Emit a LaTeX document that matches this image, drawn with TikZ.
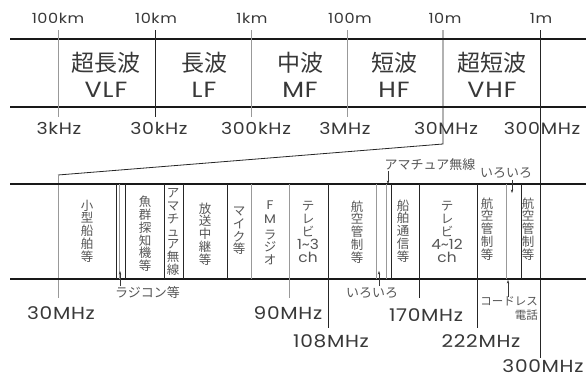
\documentclass[tikz,border=0pt]{standalone}
\usepackage{fontspec}
\setmainfont{Poppins}
\newfontfamily\jp{Noto Sans CJK JP}
\newfontfamily\wide{Poppins}[LetterSpace=4,FakeStretch=1.15]
\newfontfamily\lat{Poppins}[FakeStretch=1.1]
\usetikzlibrary{arrows.meta}
\definecolor{ink}{gray}{0.22}
\definecolor{soft}{gray}{0.6}
\newcommand{\tld}{\symbol{"7E}}
\begin{document}
\begin{tikzpicture}[x=1pt,y=-1pt,
  band/.style={line width=1.6pt,black!90},
  dv/.style={line width=0.8pt,black!85},
  gv/.style={line width=0.7pt,soft},
  km/.style={inner sep=0pt,ink,font=\wide\fontsize{14}{14}\selectfont},
  hz/.style={inner sep=0pt,ink,font=\wide\fontsize{16.5}{16.5}\selectfont},
  mhz/.style={inner sep=0pt,ink,font=\wide\fontsize{17.5}{17.5}\selectfont},
  jpn/.style={inner sep=0pt,ink,font=\jp\fontsize{23}{23}\selectfont},
  lats/.style={inner sep=0pt,ink,font=\wide\fontsize{22}{22}\selectfont},
  vt/.style={inner sep=0pt,align=center,ink!85,font=\jp\fontsize{12.5}{12.8}\selectfont},
  sm/.style={inner sep=0pt,ink!85,font=\jp\fontsize{13}{13}\selectfont},
  ar/.style={line width=0.5pt,ink,-{Stealth[length=3.5pt,width=2.4pt]}}
]
\useasboundingbox (0,0) rectangle (586,378);
\fill[white] (0,0) rectangle (586,378);
% top band
\draw[band] (10,39) -- (586,39);
\draw[band] (10,107) -- (586,107);
\draw[gv] (58,30) -- (58,117);
\draw[dv] (155,30) -- (155,117);
\draw[gv] (251,30) -- (251,117);
\draw[gv] (347,30) -- (347,117);
\draw[dv] (443,30) -- (443,144) -- (58,175);
\draw[gv] (58,175) -- (58,298);
\draw[dv] (540,30) -- (540,358);
% labels top
\node[km] (l100km) at (58,18) {100km};
\node[km] (l10km) at (156,18) {10km};
\node[km] (l1km) at (252,18) {1km};
\node[km] (l100m) at (350,18) {100m};
\node[km] (l10m) at (445,18) {10m};
\node[km] (l1m) at (541,18) {1m};
\node[hz] (f3k) at (59,128) {3kHz};
\node[hz] (f30k) at (159,128) {30kHz};
\node[hz] (f300k) at (256,128) {300kHz};
\node[hz] (f3M) at (345,128) {3MHz};
\node[hz] (f30M) at (446,128) {30MHz};
\node[hz] (f300M) at (542,128) {300MHz};
% band names
\node[jpn] (vlfj) at (106,63) {超長波};
\node[lats] (vlf) at (106,90) {VLF};
\node[jpn] (lfj) at (204,63) {長波};
\node[lats] (lf) at (204,90) {LF};
\node[jpn] (mfj) at (300,63) {中波};
\node[lats] (mf) at (300,90) {MF};
\node[jpn] (hfj) at (394,63) {短波};
\node[lats] (hf) at (394,90) {HF};
\node[jpn] (vhfj) at (492,63) {超短波};
\node[lats] (vhf) at (492,90) {VHF};
% second band
\draw[band] (10,184) -- (586,184);
\draw[band] (10,279) -- (586,279);
\draw[dv] (116,184) -- (116,279);
\draw[gv,line width=0.5pt] (119,184) -- (119,279);
\draw[dv] (125,184) -- (125,279);
\draw[dv] (164,184) -- (164,279);
\draw[dv] (183,184) -- (183,279);
\draw[dv] (227,184) -- (227,279);
\draw[gv] (251,184) -- (251,279);
\draw[gv] (289,184) -- (289,298);
\draw[dv] (328,184) -- (328,328);
\draw[gv] (376,184) -- (376,279);
\draw[gv] (386,184) -- (386,279);
\draw[dv] (391,184) -- (391,279);
\draw[dv] (419,184) -- (419,298);
\draw[dv] (477,184) -- (477,328);
\draw[gv] (506,184) -- (506,279);
\draw[dv] (521,184) -- (521,279);
% vertical texts
\node[vt] (a1) at (87,231) {小\\型\\船\\舶\\等};
\node[vt] (a2) at (145,234) {魚\\群\\探\\知\\機\\等};
\node[vt] (a3) at (173,232) {ア\\マ\\チ\\ュ\\ア\\無\\線};
\node[vt] (a4) at (205,234) {放\\送\\中\\継\\等};
\node[vt] (a5) at (239,231) {マ\\イ\\ク\\等};
\node[vt] (a6) at (270,233) {{\lat F}\\[1.5pt]{\lat M}\\[2.5pt]ラ\\ジ\\オ};
\node[vt] (a7) at (308,232) {テ\\レ\\ビ\\[1pt]{\lat\fontsize{14}{13}\selectfont 1\tld 3}\\{\lat\fontsize{14}{13}\selectfont ch}};
\node[vt] (a8) at (357,232) {航\\空\\管\\制\\等};
\node[vt] (a9) at (403,231) {船\\舶\\通\\信\\等};
\node[vt] (a10) at (447,232) {テ\\レ\\ビ\\[1pt]{\lat\fontsize{14}{13}\selectfont 4\tld 12}\\{\lat\fontsize{14}{13}\selectfont ch}};
\node[vt] (a11) at (487,229) {航\\空\\管\\制\\等};
\node[vt] (a12) at (528,229) {航\\空\\管\\制\\等};
% small labels with arrows
\node[sm,anchor=west] (radicon) at (115,293) {ラジコン等};
\coordinate (radtip) at (120,271);
\draw[ar] (120,286) -- (radtip);
\node[sm] (iro1) at (372,293) {いろいろ};
\coordinate (iro1tip) at (379,271);
\draw[ar] (379,286) -- (iro1tip);
\node[sm] (ama) at (430,165) {アマチュア無線};
\coordinate (amatip) at (388,184);
\draw[ar] (388,171) -- (amatip);
\node[sm] (iro2) at (506,173) {いろいろ};
\coordinate (iro2tip) at (512,193);
\draw[ar] (512,180) -- (iro2tip);
\node[sm,align=right,font=\jp\fontsize{11.5}{14}\selectfont] (cordless) at (509,309) {コードレス\\電話};
\coordinate (cordtip) at (508,280);
\draw[ar] (508,297) -- (cordtip);
% bottom labels
\node[mhz] (b30) at (61,313) {30MHz};
\node[mhz] (b90) at (288,313) {90MHz};
\node[mhz] (b108) at (331,341) {108MHz};
\node[mhz] (b170) at (426,315) {170MHz};
\node[mhz] (b222) at (481,341) {222MHz};
\node[mhz] (b300) at (543,366) {300MHz};
\end{tikzpicture}
\end{document}
